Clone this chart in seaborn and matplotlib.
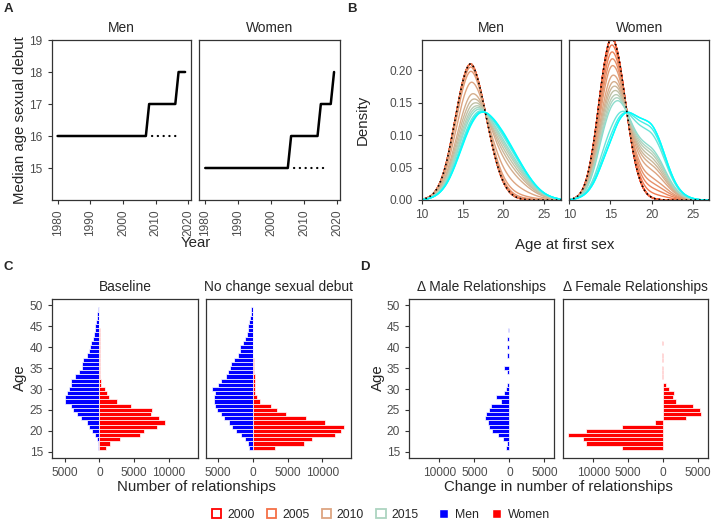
import numpy as np
import pandas as pd
import matplotlib
matplotlib.use("Agg")
import matplotlib.pyplot as plt
from matplotlib.colors import LinearSegmentedColormap
from matplotlib.patches import Patch
from matplotlib.ticker import FuncFormatter
import seaborn as sns

# -----------------------------
# Data
# -----------------------------
# A: median age at sexual debut (vertices of the step lines)
men_debut_year = [1980, 2007, 2008, 2016, 2017, 2019]
men_debut_age = [16, 16, 17, 17, 18, 18]
women_debut_year = [1980, 2005, 2006, 2014, 2015, 2018, 2019]
women_debut_age = [15, 15, 16, 16, 17, 17, 18]
men_nochange_year = [2009, 2017]
men_nochange_age = [16, 16]
women_nochange_year = [2007, 2017]
women_nochange_age = [15, 15]

# B: age at first sex, relative frequency per single year of age
first_sex_age = list(range(10, 28))
men_dist_2000 = [0.2, 1.6, 7.2, 23, 54, 87, 104, 85, 56, 28, 10.7, 3.1, 0.7,
                 0.1, 0, 0, 0, 0]
men_dist_2020 = [0, 0.2, 0.8, 2.2, 5.0, 8.8, 12.2, 14.3, 14.2, 12.8, 10.9,
                 8.6, 6.2, 4.0, 2.2, 1.0, 0.4, 0.1]
women_dist_2000 = [0.08, 1.0, 7.1, 29.8, 71.7, 99.7, 84.9, 48.1, 18.2, 4.6,
                   0.8, 0.1, 0, 0, 0, 0, 0, 0]
women_dist_2020 = [0, 0.2, 0.8, 2.4, 5.8, 9.0, 12.6, 14.0, 13.0, 12.4, 12.1,
                   9.4, 5.2, 2.1, 0.7, 0.2, 0, 0]
dist_years = list(range(2000, 2021))
# share of the later pattern in each year
men_shift = [0, 0, 0, 0, 0, 0, 0, 0, 0.05, 0.12, 0.30, 0.50, 0.60, 0.68,
             0.75, 0.80, 0.85, 0.92, 0.96, 0.98, 1.0]
women_shift = [0, 0, 0, 0, 0, 0, 0.07, 0.14, 0.21, 0.28, 0.38, 0.45, 0.50,
               0.55, 0.60, 0.64, 0.68, 0.88, 0.95, 1.0, 1.0]
legend_years = [2000, 2005, 2010, 2015]

# C: number of relationships by age
ages = list(range(16, 50))
base_men = [190, 240, 380, 620, 1000, 1440, 1820, 2680, 3160, 3780, 4020, 4900,
            4900, 4640, 4350, 4020, 4020, 3490, 2870, 2490, 2540, 2300, 1820,
            1530, 1340, 1200, 910, 770, 670, 570, 530, 380, 290, 200]
base_women = [910, 1530, 2920, 5790, 6460, 8230, 9430, 8610, 7460, 7510, 4590,
              2580, 1340, 1050, 810, 290, 190, 150, 120, 100, 80, 60, 50, 40,
              30, 30, 20, 20, 20, 10, 10, 10, 10, 10]
nochange_men = [620, 720, 1200, 1770, 2390, 3010, 3490, 4160, 4640, 5120, 5410,
                5650, 5650, 5500, 5890, 5020, 4590, 3920, 3590, 3300, 3110, 2730,
                2150, 1820, 1820, 1390, 1200, 910, 670, 670, 570, 430, 330, 240]
nochange_women = [3250, 7420, 8470, 11910, 12730, 13200, 10430, 7700, 4830,
                  3490, 2680, 1050, 620, 330, 330, 330, 240, 250, 200, 150, 120,
                  100, 80, 60, 40, 40, 40, 30, 30, 30, 20, 20, 20, 20]

# D: change in number of relationships by age
delta_men = [-480, -380, -960, -1670, -2530, -2870, -3020, -3490, -3350, -2870,
             -2630, -1200, -1960, -760, -530, -380, -60, -80, -380, -760, -40,
             -40, -290, -120, -290, -100, -380, -60, -140, -60, -80, -40, -40, -40]
delta_women = [-5890, -11050, -11480, -13640, -11050, -5890, -1200, 3350, 5500,
               5360, 4310, 1910, 1440, 1530, 810, 480, -60, -80, -100, -120, -60,
               -80, -100, -60, -40, -80, -60, -40, -40, -60, -40, -40, -40, 0]

# -----------------------------
# Style
# -----------------------------
sns.set_style("white")
plt.rcParams["font.family"] = ["Liberation Sans", "DejaVu Sans"]
EDGE = "#333333"
TICK = "#4D4D4D"
W, H = 714, 522
BW = 0.65  # kde bandwidth in years

year_cmap = LinearSegmentedColormap.from_list(
    "yr", ["#FF0000", "#F47046", "#DDA581", "#AFD3BF", "#00FFFF"])


def year_color(y):
    return year_cmap((y - 2000) / 20)


fig = plt.figure(figsize=(W / 100, H / 100), dpi=100)


def add_ax(l, t, r, b):
    ax = fig.add_axes([l / W, 1 - b / H, (r - l) / W, (b - t) / H])
    for s in ax.spines.values():
        s.set_color(EDGE)
        s.set_linewidth(0.9)
        s.set_visible(True)
    ax.tick_params(colors=EDGE, labelcolor=TICK, labelsize=8.6, length=3,
                   width=0.8, direction="out", bottom=True, left=True)
    return ax


def strip(ax, text):
    ax.set_title(text, fontsize=9.9, pad=6)


abs_fmt = FuncFormatter(lambda v, p: f"{abs(v):.0f}")

# -----------------------------
# A
# -----------------------------
axA1 = add_ax(51.7, 40, 191, 200)
axA2 = add_ax(199.3, 40, 340, 200)
panelsA = [
    (axA1, "Men", men_debut_year, men_debut_age, men_nochange_year, men_nochange_age),
    (axA2, "Women", women_debut_year, women_debut_age, women_nochange_year, women_nochange_age),
]
for ax, title, yr, ag, nyr, nag in panelsA:
    sns.lineplot(x=yr, y=ag, ax=ax, color="black", lw=1.8, estimator=None)
    ax.plot(nyr, nag, color="black", lw=1.6, linestyle=(0, (0.1, 2.5)),
            dash_capstyle="round")
    ax.set_xlim(1978.2, 2020.8)
    ax.set_ylim(14, 19)
    ax.set_xticks([1980, 1990, 2000, 2010, 2020])
    ax.set_yticks([15, 16, 17, 18, 19])
    ax.tick_params(axis="x", labelrotation=90)
    ax.set_xlabel("")
    ax.set_ylabel("")
    strip(ax, title)
axA2.tick_params(axis="y", left=False, labelleft=False)

# -----------------------------
# B
# -----------------------------
axB1 = add_ax(421.7, 40, 560.7, 200)
axB2 = add_ax(569.3, 40, 709.3, 200)
age_arr = np.array(first_sex_age, dtype=float)
panelsB = [
    (axB1, "Men", men_dist_2000, men_dist_2020, men_shift),
    (axB2, "Women", women_dist_2000, women_dist_2020, women_shift),
]
for ax, title, d0, d1, shift in panelsB:
    d0 = np.array(d0) / np.sum(d0)
    d1 = np.array(d1) / np.sum(d1)
    for yr, s in zip(dist_years, shift):
        w = (1 - s) * d0 + s * d1
        bw = BW / np.sqrt(np.cov(age_arr, aweights=w))
        sns.kdeplot(x=age_arr, weights=w, bw_method=bw, clip=(10, 27.2),
                    cut=4, gridsize=300, color=year_color(yr), lw=1.0, ax=ax)
    bw = BW / np.sqrt(np.cov(age_arr, aweights=d0))
    sns.kdeplot(x=age_arr, weights=d0, bw_method=bw, clip=(10, 27.2), cut=4,
                gridsize=300, color="black", lw=1.3, linestyle=(0, (0.1, 2.4)),
                dash_capstyle="round", ax=ax)
    ax.set_xlim(10, 27)
    ax.set_ylim(0, 0.247)
    ax.set_xticks([10, 15, 20, 25])
    ax.set_yticks([0, 0.05, 0.10, 0.15, 0.20])
    ax.yaxis.set_major_formatter(FuncFormatter(lambda v, p: f"{v:.2f}"))
    ax.set_xlabel("")
    ax.set_ylabel("")
    strip(ax, title)
axB2.tick_params(axis="y", left=False, labelleft=False)

# -----------------------------
# C
# -----------------------------
axC1 = add_ax(52, 299, 198, 457.7)
axC2 = add_ax(205.7, 299, 351, 457.7)
panelsC = [
    (axC1, "Baseline", base_men, base_women),
    (axC2, "No change sexual debut", nochange_men, nochange_women),
]
for ax, title, m, f in panelsC:
    sns.barplot(x=-np.array(m), y=ages, orient="y", native_scale=True,
                color="#0000FF", saturation=1, width=1, edgecolor="white",
                linewidth=0.5, errorbar=None, ax=ax)
    sns.barplot(x=np.array(f), y=ages, orient="y", native_scale=True,
                color="#FF0000", saturation=1, width=1, edgecolor="white",
                linewidth=0.5, errorbar=None, ax=ax)
    ax.set_xlim(-6800, 14150)
    ax.set_ylim(13.6, 51.5)
    ax.set_xticks([-5000, 0, 5000, 10000])
    ax.set_yticks([15, 20, 25, 30, 35, 40, 45, 50])
    ax.xaxis.set_major_formatter(abs_fmt)
    ax.set_xlabel("")
    ax.set_ylabel("")
    strip(ax, title)
axC2.tick_params(axis="y", left=False, labelleft=False)

# -----------------------------
# D
# -----------------------------
axD1 = add_ax(409, 299, 554.3, 457.7)
axD2 = add_ax(563.3, 299, 707.7, 457.7)
panelsD = [
    (axD1, "\u0394 Male Relationships", delta_men, "#0000FF"),
    (axD2, "\u0394 Female Relationships", delta_women, "#FF0000"),
]
for ax, title, v, col in panelsD:
    sns.barplot(x=np.array(v), y=ages, orient="y", native_scale=True,
                color=col, saturation=1, width=1, edgecolor="white",
                linewidth=0.5, errorbar=None, ax=ax)
    ax.set_xlim(-14300, 6400)
    ax.set_ylim(13.6, 51.5)
    ax.set_xticks([-10000, -5000, 0, 5000])
    ax.set_yticks([15, 20, 25, 30, 35, 40, 45, 50])
    ax.xaxis.set_major_formatter(abs_fmt)
    ax.set_xlabel("")
    ax.set_ylabel("")
    strip(ax, title)
axD2.tick_params(axis="y", left=False, labelleft=False)

# -----------------------------
# Titles and labels
# -----------------------------
def ftext(x, y, s, **kw):
    fig.text(x / W, 1 - y / H, s, ha="center", va="center", **kw)


ftext(196, 243, "Year", fontsize=10.8)
ftext(565, 245, "Age at first sex", fontsize=10.8)
ftext(196, 487, "Number of relationships", fontsize=10.8)
ftext(558, 487, "Change in number of relationships", fontsize=10.8)
ftext(20, 120, "Median age sexual debut", fontsize=10.8, rotation=90)
ftext(363, 120, "Density", fontsize=10.8, rotation=90)
ftext(20, 378, "Age", fontsize=10.8, rotation=90)
ftext(378, 378, "Age", fontsize=10.8, rotation=90)
for lx, ly, lt in [(8, 9, "A"), (352, 9, "B"), (8, 267, "C"), (365, 267, "D")]:
    ftext(lx, ly, lt, fontsize=9.5, fontweight="bold")

# -----------------------------
# Legends
# -----------------------------
yr_handles = [Patch(facecolor="white", edgecolor=year_color(y), lw=1.3)
              for y in legend_years]
fig.legend(yr_handles, [str(y) for y in legend_years], loc="center left",
           bbox_to_anchor=(212 / W, 1 - 515 / H), ncol=4, frameon=False,
           fontsize=8.8, handlelength=0.75, handleheight=0.75,
           handletextpad=0.5, columnspacing=1.0, borderpad=0, borderaxespad=0)
sex_handles = [Patch(facecolor="#0000FF"), Patch(facecolor="#FF0000")]
fig.legend(sex_handles, ["Men", "Women"], loc="center left",
           bbox_to_anchor=(439 / W, 1 - 515 / H), ncol=2, frameon=False,
           fontsize=8.8, handlelength=0.75, handleheight=0.75,
           handletextpad=0.6, columnspacing=1.0, borderpad=0, borderaxespad=0)

fig.savefig("out.png", dpi=100, facecolor="white")
